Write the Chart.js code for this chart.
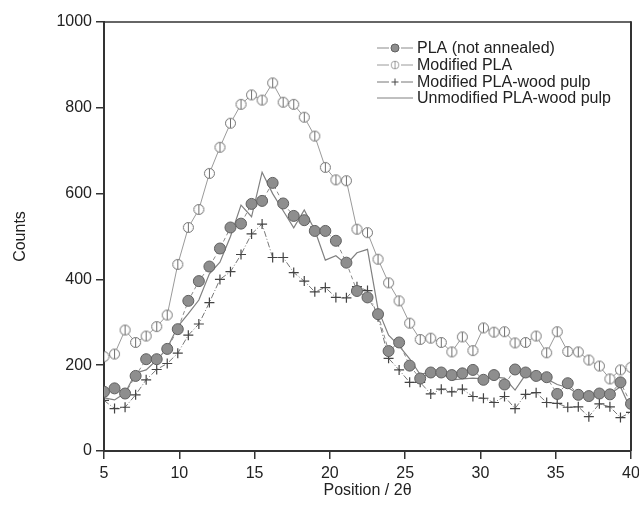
<!DOCTYPE html>
<html>
<head>
<meta charset="utf-8">
<title>XRD counts</title>
<script src="https://cdn.jsdelivr.net/npm/chart.js@4.4.1/dist/chart.umd.min.js"></script>
<style>
    html, body { margin: 0; padding: 0; background: #fff; }
    #xrdChart { display: block; }
</style>
</head>
<body>
<canvas id="xrdChart" width="639" height="509"></canvas>
<script>
// Scan positions (2 theta)
const positions = [5, 5.7, 6.4, 7.1, 7.8, 8.5, 9.2, 9.9, 10.6, 11.3,
    12, 12.7, 13.4, 14.1, 14.8, 15.5, 16.2, 16.9, 17.6, 18.3,
    19, 19.7, 20.4, 21.1, 21.8, 22.5, 23.2, 23.9, 24.6, 25.3,
    26, 26.7, 27.4, 28.1, 28.8, 29.5, 30.2, 30.9, 31.6, 32.3,
    33, 33.7, 34.4, 35.1, 35.8, 36.5, 37.2, 37.9, 38.6, 39.3, 40];

// Counts per sample
const plaNotAnnealed = [138, 146, 134, 175, 214, 214, 238, 284, 350, 396,
    430, 472, 521, 530, 576, 583, 625, 577, 548, 538,
    513, 513, 490, 439, 373, 358, 319, 233, 253, 199,
    169, 183, 183, 177, 181, 189, 166, 177, 155, 190,
    183, 175, 172, 133, 158, 131, 128, 134, 132, 160, 110];

const modifiedPla = [220, 226, 282, 253, 268, 290, 317, 435, 521, 563,
    647, 708, 764, 808, 830, 818, 858, 813, 808, 778,
    734, 661, 632, 630, 517, 509, 447, 392, 350, 298,
    260, 263, 253, 231, 266, 234, 287, 277, 278, 252,
    253, 268, 229, 278, 232, 231, 212, 198, 168, 189, 195];

const modifiedWoodPulp = [118, 99, 102, 131, 166, 190, 204, 228, 270, 296,
    346, 400, 418, 458, 506, 529, 451, 451, 416, 396,
    371, 381, 358, 357, 383, 374, 313, 216, 189, 160,
    160, 133, 144, 138, 144, 127, 123, 113, 127, 99,
    132, 136, 113, 111, 102, 103, 80, 110, 103, 78, 90];

const unmodifiedWoodPulp = [124, 119, 135, 182, 189, 212, 240, 290, 320, 352,
    413, 440, 500, 573, 546, 650, 600, 560, 520, 562,
    515, 445, 455, 435, 462, 470, 330, 270, 245, 215,
    178, 185, 182, 166, 168, 170, 168, 172, 170, 142,
    178, 165, 168, 155, 148, 133, 128, 130, 133, 150, 95];

const seriesLabels = ['PLA (not annealed)', 'Modified PLA', 'Modified PLA-wood pulp', 'Unmodified PLA-wood pulp'];
const yTicks = [0, 200, 400, 600, 800, 1000];
const xTicks = [5, 10, 15, 20, 25, 30, 35, 40];

const FONT = "'Liberation Sans', Arial, sans-serif";
const AXIS = '#333333';

// open circle with a vertical bar through it
function makeBarCircle() {
    const c = document.createElement('canvas');
    c.width = 13;
    c.height = 13;
    const g = c.getContext('2d');
    g.beginPath();
    g.arc(6.5, 6.5, 5, 0, Math.PI * 2);
    g.fillStyle = '#fff';
    g.fill();
    g.lineWidth = 1;
    g.strokeStyle = '#707070';
    g.stroke();
    g.beginPath();
    g.moveTo(6.5, 2);
    g.lineTo(6.5, 11);
    g.stroke();
    return c;
}
const barCircle = makeBarCircle();

function toPoints(values) {
    return values.map((v, i) => ({ x: positions[i], y: v }));
}

// legend drawn as line - marker - line, like the instrument software
const sampleLegend = {
    id: 'sampleLegend',
    afterDraw(chart) {
        const ctx = chart.ctx;
        const x0 = 377, x1 = 413, xm = 395;
        const rows = [48, 65, 82, 98];
        ctx.save();
        chart.data.datasets.forEach((ds, i) => {
            const y = rows[i];
            ctx.strokeStyle = ds.borderColor;
            ctx.lineWidth = 1;
            ctx.setLineDash([]);
            ctx.beginPath();
            if (ds.pointRadius > 0) {
                ctx.moveTo(x0, y); ctx.lineTo(xm - 6, y);
                ctx.moveTo(xm + 6, y); ctx.lineTo(x1, y);
            } else {
                ctx.moveTo(x0, y); ctx.lineTo(x1, y);
            }
            ctx.stroke();

            if (ds.pointStyle === 'circle') {
                ctx.beginPath();
                ctx.arc(xm, y, 4, 0, Math.PI * 2);
                ctx.fillStyle = ds.pointBackgroundColor;
                ctx.fill();
                ctx.strokeStyle = ds.pointBorderColor;
                ctx.stroke();
            } else if (ds.pointStyle === 'cross') {
                ctx.strokeStyle = ds.pointBorderColor;
                ctx.beginPath();
                ctx.moveTo(xm - 3.5, y); ctx.lineTo(xm + 3.5, y);
                ctx.moveTo(xm, y - 3.5); ctx.lineTo(xm, y + 3.5);
                ctx.stroke();
            } else if (ds.pointStyle === barCircle) {
                ctx.drawImage(barCircle, xm - 5, y - 5, 10, 10);
            }

            ctx.fillStyle = '#222';
            ctx.font = '16px ' + FONT;
            ctx.textBaseline = 'middle';
            ctx.textAlign = 'left';
            ctx.fillText(ds.label, 417, y + 1);
        });
        ctx.restore();
    }
};

// closes the plot box on the top and right
const plotFrame = {
    id: 'plotFrame',
    afterDraw(chart) {
        const { left, right, top, bottom } = chart.chartArea;
        const ctx = chart.ctx;
        ctx.save();
        ctx.strokeStyle = AXIS;
        ctx.lineWidth = 1.5;
        ctx.beginPath();
        ctx.moveTo(left, top);
        ctx.lineTo(right, top);
        ctx.stroke();
        ctx.lineWidth = 2;
        ctx.beginPath();
        ctx.moveTo(right, top - 0.75);
        ctx.lineTo(right, bottom);
        ctx.stroke();
        ctx.restore();
    }
};

Chart.defaults.font.family = FONT;
Chart.defaults.color = '#222';

new Chart(document.getElementById('xrdChart'), {
    type: 'line',
    data: {
        datasets: [{
            label: seriesLabels[0],
            data: toPoints(plaNotAnnealed),
            borderColor: '#8a8a8a',
            borderWidth: 1,
            borderDash: [4, 3],
            pointStyle: 'circle',
            pointRadius: 5.5,
            pointBackgroundColor: '#8e8e8e',
            pointBorderColor: '#606060',
            pointBorderWidth: 1,
            tension: 0
        }, {
            label: seriesLabels[1],
            data: toPoints(modifiedPla),
            borderColor: '#9a9a9a',
            borderWidth: 1,
            pointStyle: barCircle,
            pointRadius: 5,
            pointBackgroundColor: '#fff',
            pointBorderColor: '#707070',
            tension: 0
        }, {
            label: seriesLabels[2],
            data: toPoints(modifiedWoodPulp),
            borderColor: '#777777',
            borderWidth: 1,
            borderDash: [6, 2, 1, 2],
            pointStyle: 'cross',
            pointRadius: 5,
            pointBorderColor: '#444444',
            pointBorderWidth: 1.2,
            tension: 0
        }, {
            label: seriesLabels[3],
            data: toPoints(unmodifiedWoodPulp),
            borderColor: '#808080',
            borderWidth: 1.2,
            pointRadius: 0,
            tension: 0
        }]
    },
    options: {
        responsive: false,
        animation: false,
        events: [],
        layout: { padding: { left: 0, right: 8, top: 22, bottom: 0 } },
        plugins: {
            legend: { display: false },
            tooltip: { enabled: false }
        },
        scales: {
            x: {
                type: 'linear',
                min: 5,
                max: 40,
                afterBuildTicks: (scale) => { scale.ticks = xTicks.map(v => ({ value: v })); },
                afterFit: (scale) => {
                    scale.height = 58;
                    // let the end labels hang over the margins
                    scale.paddingLeft = 0;
                    scale.paddingRight = 0;
                },
                grid: { drawOnChartArea: false, drawTicks: true, tickLength: 8, color: AXIS, lineWidth: 1.5 },
                border: { color: AXIS, width: 2 },
                ticks: { font: { size: 16 }, padding: 5, color: '#222', maxRotation: 0, callback: (v) => String(v) },
                title: {
                    display: true,
                    text: 'Position / 2θ',
                    font: { size: 16 },
                    color: '#222',
                    padding: { top: 0, bottom: 9 }
                }
            },
            y: {
                min: 0,
                max: 1000,
                afterBuildTicks: (scale) => { scale.ticks = yTicks.map(v => ({ value: v })); },
                afterFit: (scale) => {
                    scale.width = 104;
                    scale.paddingTop = 0;
                    scale.paddingBottom = 0;
                },
                grid: { drawOnChartArea: false, drawTicks: true, tickLength: 8, color: AXIS, lineWidth: 1.5 },
                border: { color: AXIS, width: 2 },
                ticks: { font: { size: 16 }, padding: 4, color: '#222', callback: (v) => String(v) },
                title: {
                    display: true,
                    text: 'Counts',
                    font: { size: 16 },
                    color: '#222',
                    padding: { top: 11, bottom: 0 }
                }
            }
        }
    },
    plugins: [sampleLegend, plotFrame]
});
</script>
</body>
</html>
